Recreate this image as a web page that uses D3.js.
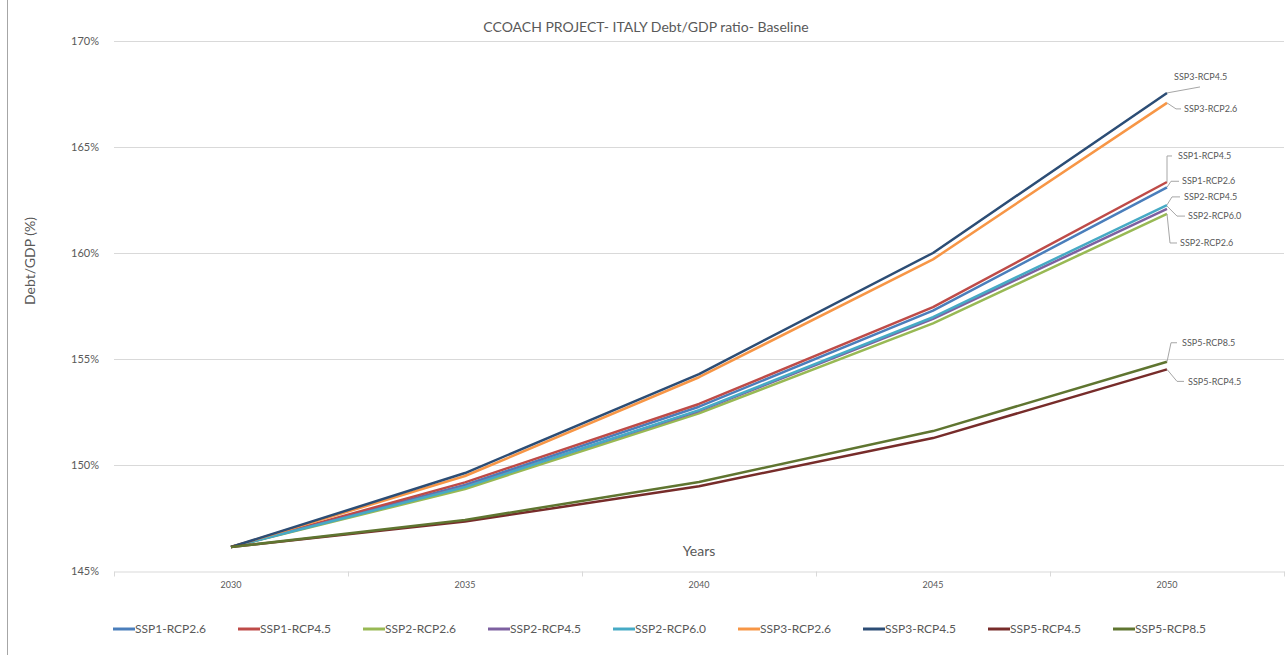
<!DOCTYPE html>
<html>
<head>
<meta charset="utf-8">
<script src="https://cdn.jsdelivr.net/npm/d3@7"></script>
<style>
  body { margin: 0; background: #fff; }
  svg text { font-family: Lato, "Open Sans", sans-serif; fill: #595959; }
</style>
</head>
<body>
<script>
// chart values
var years = ["2030", "2035", "2040", "2045", "2050"];
var seriesNames = ["SSP1-RCP2.6", "SSP1-RCP4.5", "SSP2-RCP2.6", "SSP2-RCP4.5", "SSP2-RCP6.0",
                   "SSP3-RCP2.6", "SSP3-RCP4.5", "SSP5-RCP4.5", "SSP5-RCP8.5"];
var ssp1_rcp26 = [146.13, 149.06, 152.75, 157.28, 163.10];
var ssp1_rcp45 = [146.13, 149.18, 152.88, 157.45, 163.35];
var ssp2_rcp26 = [146.13, 148.87, 152.44, 156.68, 161.84];
var ssp2_rcp45 = [146.13, 149.00, 152.55, 156.89, 162.08];
var ssp2_rcp60 = [146.13, 148.96, 152.59, 156.97, 162.26];
var ssp3_rcp26 = [146.13, 149.48, 154.14, 159.70, 167.08];
var ssp3_rcp45 = [146.13, 149.62, 154.29, 160.00, 167.55];
var ssp5_rcp45 = [146.13, 147.33, 149.00, 151.27, 154.51];
var ssp5_rcp85 = [146.13, 147.41, 149.20, 151.60, 154.87];
var yTicks = [145, 150, 155, 160, 165, 170];

var seriesValues = [ssp1_rcp26, ssp1_rcp45, ssp2_rcp26, ssp2_rcp45, ssp2_rcp60,
                    ssp3_rcp26, ssp3_rcp45, ssp5_rcp45, ssp5_rcp85];
var colors = ["#4a7ebb", "#be4b48", "#98b954", "#7d60a0", "#46aac5",
              "#f79646", "#2c4d75", "#772c2a", "#5f7530"];

// where the end labels sit, relative to each line's last point (px)
var labelLayout = {
  "SSP3-RCP4.5": {leader: [[0, 0], [33, -6]], dx: 7, dy: -16},
  "SSP3-RCP2.6": {leader: [[0, 0], [9, 6], [14, 6]], dx: 17, dy: 6},
  "SSP1-RCP4.5": {leader: [[0, 0], [0, -26], [5, -26]], dx: 11, dy: -26},
  "SSP1-RCP2.6": {leader: [[0, 0], [4, -6], [12, -6]], dx: 15, dy: -6},
  "SSP2-RCP4.5": {leader: [[0, -4], [5, -12], [13, -12]], dx: 17, dy: -12},
  "SSP2-RCP6.0": {leader: [[0, 1], [10, 11], [18, 11]], dx: 21, dy: 11},
  "SSP2-RCP2.6": {leader: [[0, 0], [3, 29], [10, 29]], dx: 13, dy: 29},
  "SSP5-RCP8.5": {leader: [[0, 0], [4, -19], [10, -19]], dx: 15, dy: -19},
  "SSP5-RCP4.5": {leader: [[0, 0], [10, 12], [17, 12]], dx: 21, dy: 12}
};

var W = 1285, H = 655;
var svg = d3.select("body").append("svg")
    .attr("width", W)
    .attr("height", H);

var x = d3.scaleBand().domain(years).range([114, 1284]);
var y = d3.scaleLinear().domain([145, 170]).range([571, 41]);

// left border of chart area
svg.append("line")
    .attr("x1", 7.5).attr("x2", 7.5).attr("y1", 0).attr("y2", H)
    .attr("stroke", "#a6a6a6");

// gridlines
svg.append("g")
  .selectAll("line")
  .data(yTicks.slice(1))
  .enter().append("line")
    .attr("x1", 114).attr("x2", 1284)
    .attr("y1", function(d) { return Math.round(y(d)) + 0.5; })
    .attr("y2", function(d) { return Math.round(y(d)) + 0.5; })
    .attr("stroke", "#d9d9d9");

// y labels
svg.append("g")
  .selectAll("text")
  .data(yTicks)
  .enter().append("text")
    .attr("x", 99)
    .attr("y", function(d) { return y(d); })
    .attr("dy", "0.35em")
    .attr("text-anchor", "end")
    .style("font-size", "11px")
    .text(function(d) { return d + "%"; });

// x axis
var xAxis = svg.append("g")
    .attr("transform", "translate(0," + (Math.round(y(145)) + 0.5) + ")")
    .call(d3.axisBottom(x).tickSize(0).tickPadding(10));
xAxis.select(".domain").attr("stroke", "#d9d9d9");
xAxis.selectAll("text").style("font-size", "9px").attr("fill", "#595959")
    .style("font-family", "Lato, 'Open Sans', sans-serif");

// tick marks at band edges
var edges = years.map(function(d) { return x(d); }).concat([x.range()[1]]);
xAxis.selectAll(".edge")
  .data(edges)
  .enter().append("line")
    .attr("class", "edge")
    .attr("x1", function(d) { return Math.round(d) + 0.5; })
    .attr("x2", function(d) { return Math.round(d) + 0.5; })
    .attr("y1", 0).attr("y2", 5)
    .attr("stroke", "#d9d9d9");

// lines
var line = d3.line()
    .x(function(d, i) { return x(years[i]) + x.bandwidth() / 2; })
    .y(function(d) { return y(d); });

svg.append("g")
  .selectAll("path")
  .data(seriesValues)
  .enter().append("path")
    .attr("d", line)
    .attr("fill", "none")
    .attr("stroke", function(d, i) { return colors[i]; })
    .attr("stroke-width", 2.5)
    .attr("stroke-linejoin", "round");

// end labels with leader lines
var lastX = x(years[years.length - 1]) + x.bandwidth() / 2;
var labels = svg.append("g");
seriesNames.forEach(function(name, i) {
  var lay = labelLayout[name];
  var ly = y(seriesValues[i][seriesValues[i].length - 1]);
  labels.append("path")
      .attr("d", d3.line()(lay.leader.map(function(p) { return [lastX + p[0], ly + p[1]]; })))
      .attr("fill", "none")
      .attr("stroke", "#a6a6a6")
      .attr("stroke-width", 1);
  labels.append("text")
      .attr("x", lastX + lay.dx)
      .attr("y", ly + lay.dy)
      .attr("dy", "0.35em")
      .style("font-size", "9px")
      .text(name);
});

// titles
svg.append("text")
    .attr("x", 646).attr("y", 27)
    .attr("dy", "0.35em")
    .attr("text-anchor", "middle")
    .style("font-size", "14px")
    .text("CCOACH PROJECT- ITALY Debt/GDP ratio- Baseline");

svg.append("text")
    .attr("transform", "translate(30,261) rotate(-90)")
    .attr("dy", "0.35em")
    .attr("text-anchor", "middle")
    .style("font-size", "14px")
    .text("Debt/GDP (%)");

svg.append("text")
    .attr("x", 699).attr("y", 551)
    .attr("dy", "0.35em")
    .attr("text-anchor", "middle")
    .style("font-size", "14px")
    .text("Years");

// legend
var legend = svg.append("g")
  .selectAll("g")
  .data(seriesNames)
  .enter().append("g")
    .attr("transform", function(d, i) { return "translate(" + (113 + i * 125) + ",629)"; });

legend.append("line")
    .attr("x1", 0).attr("x2", 22)
    .attr("stroke", function(d, i) { return colors[i]; })
    .attr("stroke-width", 3);

legend.append("text")
    .attr("x", 22)
    .attr("dy", "0.35em")
    .style("font-size", "12px")
    .text(function(d) { return d; });
</script>
</body>
</html>
